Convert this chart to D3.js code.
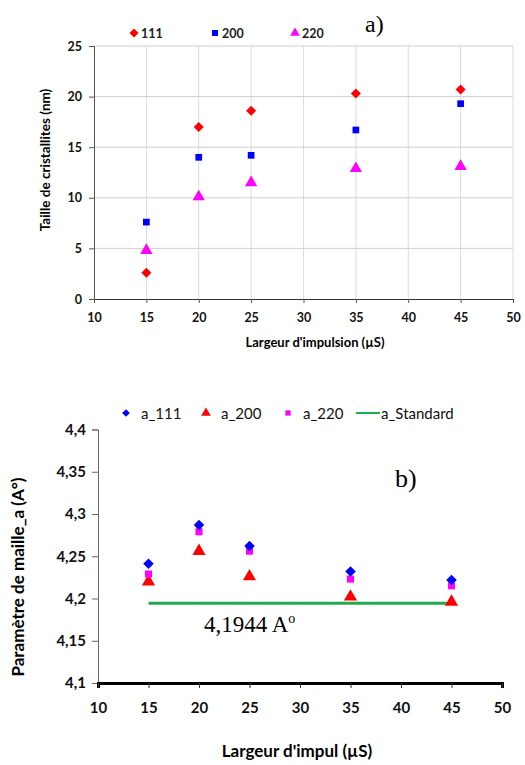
<!DOCTYPE html>
<html>
<head>
<meta charset="utf-8">
<script src="https://cdn.jsdelivr.net/npm/d3@7"></script>
<style>
body { margin: 0; background: #fff; }
text { font-family: Lato, "Open Sans", sans-serif; }
</style>
</head>
<body>
<svg id="chart" width="525" height="765"></svg>
<script>
// data
var largeur = [15, 20, 25, 35, 45];
var xTicks = [10, 15, 20, 25, 30, 35, 40, 45, 50];

// a) taille de cristallites (nm)
var t111 = [2.6, 17.0, 18.6, 20.3, 20.7];
var t200 = [7.6, 14.0, 14.2, 16.7, 19.3];
var t220 = [4.8, 10.1, 11.5, 12.9, 13.1];
var yTicksA = [0, 5, 10, 15, 20, 25];

// b) parametre de maille
var a111 = [4.241, 4.287, 4.262, 4.232, 4.222];
var a200 = [4.220, 4.256, 4.226, 4.202, 4.196];
var a220 = [4.229, 4.279, 4.256, 4.223, 4.215];
var aStandard = 4.1944;
var yTicksB = [4.1, 4.15, 4.2, 4.25, 4.3, 4.35, 4.4];

var svg = d3.select('#chart');
var comma = function(d){ return String(d).replace('.', ','); };

// square turned 45 degrees, like the excel diamond
var rhombus = {
  draw: function(ctx, size) {
    var r = Math.sqrt(size / 2);
    ctx.moveTo(0, -r); ctx.lineTo(r, 0); ctx.lineTo(0, r); ctx.lineTo(-r, 0); ctx.closePath();
  }
};

// ---------- chart a ----------
var xa = d3.scaleLinear().domain([10, 50]).range([94, 513]);
var ya = d3.scaleLinear().domain([0, 25]).range([299, 46]);

var ga = svg.append('g');

// grid
ga.selectAll('.vg').data(xTicks.slice(1)).enter().append('line')
  .attr('x1', d => xa(d)).attr('x2', d => xa(d))
  .attr('y1', ya(0)).attr('y2', ya(25))
  .attr('stroke', '#dcdcdc').attr('stroke-width', 1);
ga.selectAll('.hg').data(yTicksA.slice(1)).enter().append('line')
  .attr('x1', xa(10)).attr('x2', xa(50))
  .attr('y1', d => ya(d)).attr('y2', d => ya(d))
  .attr('stroke', '#cfcfcf').attr('stroke-width', 1);

var axA = ga.append('g')
  .attr('transform', 'translate(0,' + ya(0) + ')')
  .call(d3.axisBottom(xa).tickValues(xTicks).tickSize(4).tickPadding(10));
var ayA = ga.append('g')
  .attr('transform', 'translate(' + xa(10) + ',0)')
  .call(d3.axisLeft(ya).tickValues(yTicksA).tickSize(5).tickPadding(7));
[axA, ayA].forEach(function(g){
  g.selectAll('path').attr('stroke', '#555');
  g.selectAll('line').attr('stroke', '#555');
  g.selectAll('text').attr('font-size', 12.5).attr('font-weight', 'bold')
    .attr('fill', '#111').style('font-family', 'Lato, sans-serif');
});
axA.select('path').attr('stroke', '#333');

var symA = [
  { vals: t111, type: rhombus, color: '#ff0000', size: 50, leg: 40, name: '111' },
  { vals: t200, type: d3.symbolSquare, color: '#0000ff', size: 45, leg: 36, name: '200' },
  { vals: t220, type: d3.symbolTriangle, color: '#ff00ff', size: 65, leg: 40, name: '220' }
];
symA.forEach(function(s){
  ga.selectAll(null).data(s.vals).enter().append('path')
    .attr('d', d3.symbol().type(s.type).size(s.size))
    .attr('transform', (d, i) => 'translate(' + xa(largeur[i]) + ',' + ya(d) + ')')
    .attr('fill', s.color);
});

// legend a
var legA = [134, 215, 295];
symA.forEach(function(s, i){
  ga.append('path')
    .attr('d', d3.symbol().type(s.type).size(s.leg))
    .attr('transform', 'translate(' + legA[i] + ',33)')
    .attr('fill', s.color);
  ga.append('text').attr('x', legA[i] + 7).attr('y', 37.5)
    .attr('font-size', 12.5).attr('font-weight', 'bold').attr('fill', '#222')
    .text(s.name);
});

ga.append('text').attr('x', 365).attr('y', 32)
  .style('font-family', '"Liberation Serif", serif').attr('font-size', 24)
  .text('a)');

ga.append('text').attr('x', 315).attr('y', 347)
  .attr('text-anchor', 'middle').attr('font-size', 13).attr('font-weight', 'bold')
  .text("Largeur d'impulsion (µS)");

ga.append('text')
  .attr('transform', 'translate(50,160) rotate(-90)')
  .attr('text-anchor', 'middle').attr('font-size', 13.5).attr('font-weight', 'bold')
  .text('Taille de cristallites (nm)');

// ---------- chart b ----------
var xb = d3.scaleLinear().domain([10, 50]).range([98, 502]);
var yb = d3.scaleLinear().domain([4.1, 4.4]).range([683, 429.5]);

var gb = svg.append('g');

var ayB = gb.append('g')
  .attr('transform', 'translate(' + xb(10) + ',0)')
  .call(d3.axisLeft(yb).tickValues(yTicksB).tickFormat(comma).tickSize(6).tickPadding(6));
ayB.selectAll('path').attr('stroke', '#666');
ayB.selectAll('line').attr('stroke', '#666');

var axB = gb.append('g')
  .attr('transform', 'translate(0,' + yb(4.1) + ')')
  .call(d3.axisBottom(xb).tickValues(xTicks).tickSize(5).tickPadding(14));
axB.select('path').attr('stroke', '#000').attr('stroke-width', 3);
axB.selectAll('line').attr('stroke', '#333');

[axB, ayB].forEach(function(g){
  g.selectAll('text').attr('font-size', 15).attr('font-weight', 'bold')
    .attr('fill', '#111').style('font-family', 'Lato, sans-serif');
});

// standard line
gb.append('line')
  .attr('x1', xb(15)).attr('x2', xb(45))
  .attr('y1', yb(aStandard)).attr('y2', yb(aStandard))
  .attr('stroke', '#22a84f').attr('stroke-width', 3);

var symB = [
  { vals: a200, type: d3.symbolTriangle, color: '#ff0000', size: 75, name: 'a_200' },
  { vals: a220, type: d3.symbolSquare, color: '#ff00ff', size: 50, name: 'a_220' },
  { vals: a111, type: rhombus, color: '#0000ff', size: 55, name: 'a_111' }
];
symB.forEach(function(s){
  gb.selectAll(null).data(s.vals).enter().append('path')
    .attr('d', d3.symbol().type(s.type).size(s.size))
    .attr('transform', (d, i) => 'translate(' + xb(largeur[i]) + ',' + yb(d) + ')')
    .attr('fill', s.color);
});

// legend b
var legB = [
  { s: symB[2], x: 126, size: 30 },
  { s: symB[0], x: 206, size: 40 },
  { s: symB[1], x: 288, size: 28 }
];
legB.forEach(function(l){
  gb.append('path')
    .attr('d', d3.symbol().type(l.s.type).size(l.size))
    .attr('transform', 'translate(' + l.x + ',413)')
    .attr('fill', l.s.color);
  gb.append('text').attr('x', l.x + 15).attr('y', 418.5)
    .attr('font-size', 15).attr('fill', '#111').text(l.s.name);
});
gb.append('line').attr('x1', 356).attr('x2', 380).attr('y1', 413).attr('y2', 413)
  .attr('stroke', '#22a84f').attr('stroke-width', 2);
gb.append('text').attr('x', 381).attr('y', 418.5)
  .attr('font-size', 15).attr('fill', '#111').text('a_Standard');

gb.append('text').attr('x', 395).attr('y', 487)
  .style('font-family', '"Liberation Serif", serif').attr('font-size', 26)
  .text('b)');

var lbl = gb.append('text').attr('x', 204).attr('y', 632)
  .style('font-family', '"Liberation Serif", serif').attr('font-size', 23)
  .text(comma(aStandard) + ' A');
lbl.append('tspan').attr('dy', -9).attr('font-size', 14).text('o');

gb.append('text').attr('x', 297).attr('y', 757)
  .attr('text-anchor', 'middle').attr('font-size', 17).attr('font-weight', 'bold')
  .text("Largeur d'impul (µS)");

gb.append('text')
  .attr('transform', 'translate(24,577) rotate(-90)')
  .attr('text-anchor', 'middle').attr('font-size', 17).attr('font-weight', 'bold')
  .text('Paramètre de maille_a (A°)');
</script>
</body>
</html>
